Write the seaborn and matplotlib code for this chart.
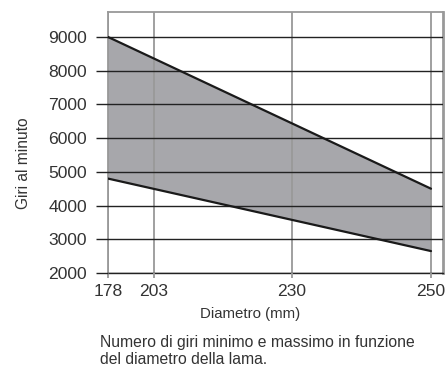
import matplotlib
matplotlib.use("Agg")
import matplotlib.pyplot as plt
import numpy as np
import pandas as pd
import seaborn as sns

# diameter (mm) vs blade speed (rpm), min and max curves
diametri = [178, 250]
giri_max = [9000, 4500]
giri_min = [4800, 2650]

tick_diametri = [178, 203, 230, 250]
tick_giri = [2000, 3000, 4000, 5000, 6000, 7000, 8000, 9000]

# the diameter axis in the original is not proportional: piecewise scale
knot_x = [170, 178, 203, 230, 250, 260]
knot_pos = [-16.0, 0.0, 46.0, 184.0, 323.0, 392.5]


def fwd(x):
    return np.interp(x, knot_x, knot_pos)


def inv(p):
    return np.interp(p, knot_pos, knot_x)


sns.set_theme(style="white")
plt.rcParams["font.family"] = ["Liberation Sans", "DejaVu Sans"]
plt.rcParams["text.color"] = "#333333"
plt.rcParams["axes.labelcolor"] = "#333333"

fig = plt.figure(figsize=(4.45, 3.72), dpi=100)
ax = fig.add_axes([108 / 445, 99 / 372, 335 / 445, 261 / 372])
ax.set_xscale("function", functions=(fwd, inv))

df = pd.DataFrame({
    "diametro": diametri * 2,
    "giri": giri_max + giri_min,
    "curva": ["max"] * len(diametri) + ["min"] * len(diametri),
})

ax.fill_between(diametri, giri_min, giri_max, color="#a7a7ab", lw=0, zorder=1)
sns.lineplot(
    data=df, x="diametro", y="giri", units="curva", estimator=None,
    color="#1a1a1a", lw=1.6, ax=ax, zorder=3,
)

ax.set_xlim(178, 250 + 12 / 6.95)
ax.set_ylim(2000, 9740)
ax.set_xticks(tick_diametri)
ax.set_xticklabels([str(t) for t in tick_diametri])
ax.set_yticks(tick_giri)
ax.set_yticklabels([str(t) for t in tick_giri])
ax.xaxis.set_minor_locator(matplotlib.ticker.NullLocator())

ax.grid(axis="y", color="#222222", lw=1.0, zorder=2)
ax.grid(axis="x", color="#999999", lw=1.3, zorder=2)
ax.set_axisbelow(False)

ax.tick_params(axis="y", length=8.6, width=1.0, color="#222222", pad=6.5,
               labelsize=12.6, labelcolor="#333333", left=True)
ax.tick_params(axis="x", length=3.6, width=1.3, color="#999999", pad=4,
               labelsize=12.6, labelcolor="#333333", bottom=True)

for side in ["left", "top"]:
    ax.spines[side].set_color("#999999")
    ax.spines[side].set_linewidth(1.3)
ax.spines["right"].set_color("#999999")
ax.spines["right"].set_linewidth(2.0)
ax.spines["bottom"].set_color("#222222")
ax.spines["bottom"].set_linewidth(1.0)

ax.set_xlabel("Diametro (mm)", fontsize=10.8)
ax.set_ylabel("Giri al minuto", fontsize=11.2)
ax.xaxis.set_label_coords(0.424, -0.13)
ax.yaxis.set_label_coords(-0.23, 0.42)

fig.text(100 / 445, 1 - 335 / 372,
         "Numero di giri minimo e massimo in funzione\ndel diametro della lama.",
         ha="left", va="top", fontsize=11.3, linespacing=1.2, color="#333333")

fig.savefig("out.png", dpi=100)
